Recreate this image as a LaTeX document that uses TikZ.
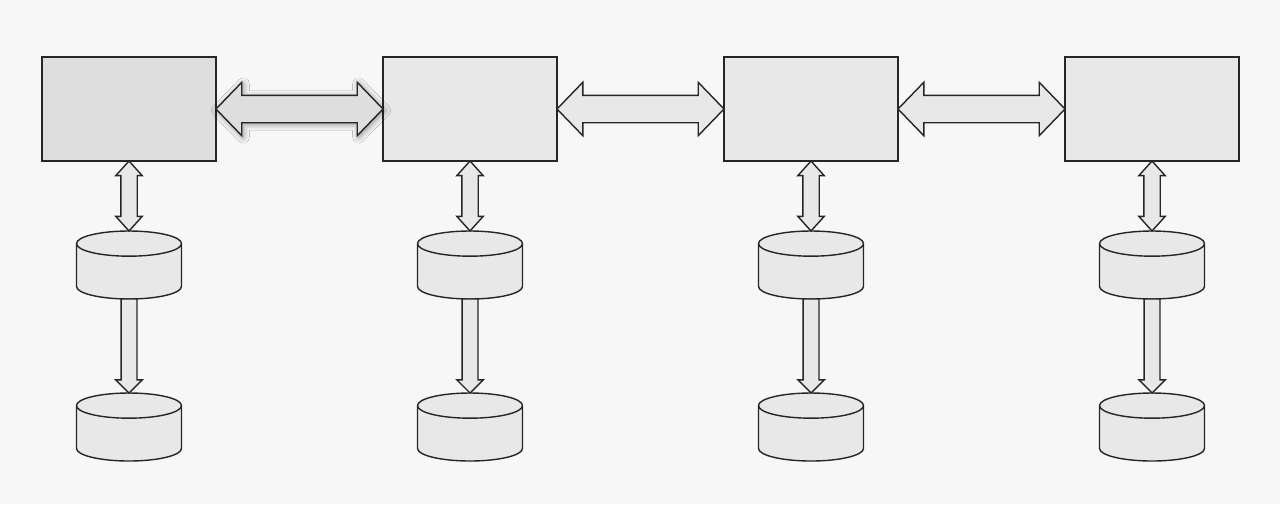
\documentclass[tikz,border=0pt]{standalone}
\usetikzlibrary{positioning}
\usetikzlibrary{calc}
\usetikzlibrary{shapes.geometric}
\usetikzlibrary{shapes.arrows}
\usetikzlibrary{shadows.blur}
\tikzset{
    % Outline weight used everywhere
    outline/.style={draw=black!85, line width=0.8pt},
%
    % Light grey fill for boxes, disks and arrows
    box fill/.style={fill=black!9},
    % A slightly darker fill for the first host
    dark fill/.style={fill=black!13},
%
    % Plain rectangle standing for one host
    host box/.style={
        outline, box fill, outer sep=0pt,
        minimum width=34.8mm, minimum height=20.8mm},
%
    % Draws a flat disk icon
    disk icon/.style={
        outline, box fill, cylinder, shape border rotate=90, aspect=2.15,
        outer sep=0pt, minimum width=21mm, minimum height=13.6mm},
%
    % Wide two way arrow between hosts
    host link/.style={
        outline, box fill, double arrow, inner sep=0pt, inner ysep=2.6mm,
        text height=0pt, text depth=0pt, minimum height=33.4mm,
        double arrow head extend=2.6mm, double arrow tip angle=92},
%
    % Narrow two way arrow from a host to its disk
    disk link/.style={
        outline, box fill, double arrow, rotate=90, inner sep=0pt,
        inner ysep=1.5mm, text height=0pt, text depth=0pt,
        minimum height=14mm,
        double arrow head extend=1mm, double arrow tip angle=84},
%
    % Narrow one way arrow from a disk to its backup
    backup link/.style={
        outline, box fill, single arrow, rotate=-90, inner sep=0pt,
        inner ysep=1.45mm, text height=0pt, text depth=0pt,
        minimum height=18.8mm, outer sep=0pt,
        single arrow head extend=1.05mm, single arrow tip angle=90}}

\begin{document}
\begin{tikzpicture}[x=0.2mm, y=-0.2mm]

% Page area and its pale background
\fill [black!3] (0,0) rectangle (1280,504);
\useasboundingbox (0,0) rectangle (1280,504);

% Draws the disk and backup disk under host #1
\newcommand{\diskstack}[1]{
\node [disk icon, below=14mm of host #1] (disk #1) {};
\node [disk icon, below=18.8mm of disk #1] (backup #1) {};
\node [disk link] (disk link #1)
    at ($(host #1.south)!0.5!(disk #1.top)$) {};
\node [backup link, anchor=tail] (backup link #1) at (disk #1.bottom) {};
}

% Row of hosts
\node [host box, dark fill] (host 1) at (129,109) {};
\node [host box, right=33.4mm of host 1] (host 2) {};
\node [host box, right=33.4mm of host 2] (host 3) {};
\node [host box, right=33.4mm of host 3] (host 4) {};

% Links between neighbouring hosts
\node [host link, dark fill, blur shadow={shadow xshift=0.3mm,
    shadow yshift=-0.3mm, shadow blur radius=1.2mm, shadow opacity=45}]
    (link 12) at ($(host 1.east)!0.5!(host 2.west)$) {};
\node [host link] (link 23) at ($(host 2.east)!0.5!(host 3.west)$) {};
\node [host link] (link 34) at ($(host 3.east)!0.5!(host 4.west)$) {};

% Disks under every host
\diskstack{1}
\diskstack{2}
\diskstack{3}
\diskstack{4}

\end{tikzpicture}
\end{document}
